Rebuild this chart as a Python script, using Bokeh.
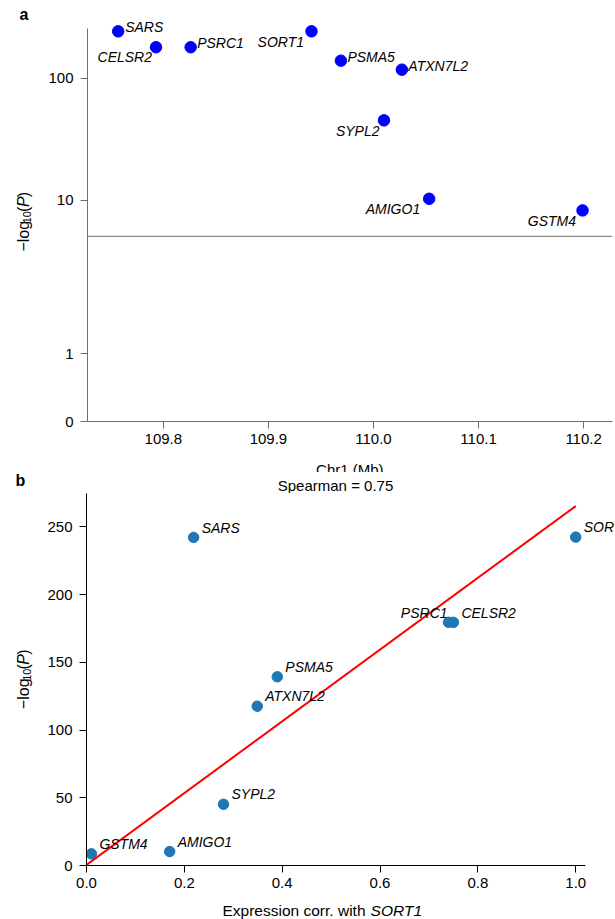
import math
from bokeh.plotting import figure
from bokeh.models import (Range1d, FixedTicker, CustomJSTickFormatter, PrintfTickFormatter,
                          Span, Label, ColumnDataSource)
from bokeh.layouts import column, row
from bokeh.embed import file_html
from bokeh.resources import INLINE

# ---------------- data ----------------
genes = ["SARS", "CELSR2", "PSRC1", "SORT1", "PSMA5", "ATXN7L2", "SYPL2", "AMIGO1", "GSTM4"]
chr1_mb = [109.757, 109.793, 109.826, 109.941, 109.969, 110.027, 110.010, 110.053, 110.199]
neglog10p = [242.2, 179.5, 179.5, 242.4, 139.3, 117.6, 45.2, 10.3, 8.6]
expr_corr = [0.219, 0.750, 0.740, 1.000, 0.390, 0.349, 0.280, 0.170, 0.010]
threshold = 5.82
fit_x = [0.0, 1.0]
fit_y = [0.5, 265.3]
spearman = 0.75
a_yticks = [0, 1, 10, 100]
a_xticks = [109.8, 109.9, 110.0, 110.1, 110.2]
b_yticks = [0, 50, 100, 150, 200, 250]
b_xticks = [0.0, 0.2, 0.4, 0.6, 0.8, 1.0]

# label placement styles (align, dx, dy in px; dy = baseline offset, up positive)
a_label_style = {
    "SARS": ("left", 7, 0), "CELSR2": ("right", -4, -15), "PSRC1": ("left", 6.5, -1),
    "SORT1": ("right", -7.5, -15.5), "PSMA5": ("left", 6.5, -1), "ATXN7L2": ("left", 6.5, -1),
    "SYPL2": ("right", -4.5, -15.5), "AMIGO1": ("right", -9, -15.5), "GSTM4": ("right", -6.5, -15.5),
}
b_label_style = {g: ("left", 8, 5) for g in genes}
b_label_style["PSRC1"] = ("right", -1, 5)

FONT = "Liberation Sans"
W = 615
SW = 40      # width of the left text strips
BF = 0.345   # baseline correction (fraction of font size)
ROT_FIX = 15  # along-text correction for rotated labels (px)

# custom compressed-log scale used by panel a's y axis
K1 = 153.3 / 122.0
K0 = 67.7 / 122.0


def ascale(v):
    if v >= 10:
        return math.log10(v)
    if v >= 1:
        return 1 - K1 * (1 - math.log10(v))
    return (1 - K1) + (v - 1) * K0


CW = {'−': 0.584, 'l': 0.222, 'o': 0.556, 'g': 0.556, '1': 0.556, '0': 0.556,
      '(': 0.333, ')': 0.333, 'P': 0.667}


def tw(s, size):
    return sum(CW.get(c, 0.556) for c in s) * size


def strip(w, h, x0, y0):
    """text-only canvas; data x = page x, data y = -page y"""
    s = figure(width=w, height=h, output_backend="svg", toolbar_location=None,
               x_range=Range1d(x0, x0 + w), y_range=Range1d(-(y0 + h), -y0),
               x_axis_location=None, y_axis_location=None, min_border=0)
    s.outline_line_color = None
    s.grid.visible = False
    return s


def txt(s, x, y, t, size=15, style="normal", align="left", angle=0.0):
    # (x, y) = page position of the text baseline start
    if angle == 0.0:
        y = y - BF * size
    else:
        x = x - BF * size
        y = y + ROT_FIX
    s.add_layout(Label(x=x, y=-y, text=t, text_font=FONT, text_font_size=f"{size:.2f}px",
                       text_font_style=style, text_align=align, text_baseline="alphabetic",
                       angle=angle, text_color="black"))


def ylabel(s, xb, yc, size=16):
    segs = [("−log", size, "normal", 0), ("10", size * 0.68, "normal", 3),
            ("(", size, "normal", 0), ("P", size, "italic", 0), (")", size, "normal", 0)]
    total = sum(tw(t, sz) for t, sz, _, _ in segs)
    y = yc + total / 2
    for t, sz, st, dx in segs:
        txt(s, xb + dx + BF * (sz - size), y, t, size=sz, style=st, angle=math.pi / 2)
        y -= tw(t, sz)


def style_axes(p, color):
    for ax in (p.xaxis[0], p.yaxis[0]):
        ax.axis_line_color = color
        ax.major_tick_line_color = color
        ax.major_tick_out = 7
        ax.major_tick_in = 0
        ax.minor_tick_out = 0
        ax.minor_tick_in = 0
        ax.major_label_text_font = FONT
        ax.major_label_text_font_size = "15px"
        ax.major_label_text_color = "black"
    p.xaxis[0].major_label_standoff = 5
    p.yaxis[0].major_label_standoff = 7
    p.xgrid.visible = False
    p.ygrid.visible = False
    p.outline_line_color = None


def gene_labels(p, xs, ys, styles, size=14):
    for g, xv, yv in zip(genes, xs, ys):
        al, dx, dy = styles[g]
        p.add_layout(Label(x=xv, y=yv, text=g, x_offset=dx, y_offset=dy + BF * size,
                           text_align=al, text_baseline="alphabetic", text_font=FONT,
                           text_font_size=f"{size}px", text_font_style="italic",
                           text_color="black"))


# ---------------- panel a (page y 0..455 + strip to 472) ----------------
HA = 455
A_TOP_VAL = 2.4074                    # y-axis spine top (scale units)
A_FRAME_TOP = A_TOP_VAL + 28 / 122.0  # frame reaches page top so labels are not cut
pa = figure(width=W - SW, height=HA, output_backend="svg", toolbar_location=None,
            x_range=Range1d(109.7278, 110.2275), y_range=Range1d(ascale(0), A_FRAME_TOP),
            min_border_left=87 - SW, min_border_right=3, min_border_top=0,
            min_border_bottom=HA - 421)
style_axes(pa, "#6e6e6e")
pa.xaxis.ticker = FixedTicker(ticks=a_xticks)
pa.xaxis.formatter = PrintfTickFormatter(format="%.1f")
pa.yaxis.ticker = FixedTicker(ticks=[ascale(v) for v in a_yticks])
pa.yaxis.formatter = CustomJSTickFormatter(args=dict(labels=[str(v) for v in a_yticks]),
                                           code="return labels[index];")
pa.yaxis.bounds = (ascale(0), A_TOP_VAL)

pa.add_layout(Span(location=ascale(threshold), dimension="width", line_color="#8c8c8c", line_width=1.2))
src_a = ColumnDataSource(dict(x=chr1_mb, y=[ascale(v) for v in neglog10p]))
pa.scatter("x", "y", source=src_a, size=11.5, color="#0000ff")
gene_labels(pa, chr1_mb, [ascale(v) for v in neglog10p], a_label_style)

sa_left = strip(SW, HA, 0, 0)
txt(sa_left, 19, 20.7, "a", size=16, style="bold")
ylabel(sa_left, 29, 224.3)

sa_bottom = strip(W, 472 - HA, 0, HA)
txt(sa_bottom, 349.3, 474, "Chr1 (Mb)", align="center")

# ---------------- panel b (page y 472..919) ----------------
sb_top = strip(W, 21, 0, 472)
txt(sb_top, 15, 485.5, "b", size=16, style="bold")
txt(sb_top, 335, 490.5, f"Spearman = {spearman}", align="center")

HB = 895 - 493
PXB = 489.5  # px per unit of x
pb = figure(width=W - SW, height=HB, output_backend="svg", toolbar_location=None,
            x_range=Range1d(0, 1.02 + 30 / PXB), y_range=Range1d(0, 274.6),
            min_border_left=86 - SW, min_border_right=0, min_border_top=0, min_border_bottom=895 - 865)
style_axes(pb, "black")
pb.xaxis.ticker = FixedTicker(ticks=b_xticks)
pb.xaxis.formatter = PrintfTickFormatter(format="%.1f")
pb.xaxis.bounds = (0, 1.02)
pb.yaxis.ticker = FixedTicker(ticks=b_yticks)

src_b = ColumnDataSource(dict(x=expr_corr, y=neglog10p))
pb.scatter("x", "y", source=src_b, size=10.5, color="#1f77b4")
pb.line(fit_x, fit_y, line_color="red", line_width=2)
gene_labels(pb, expr_corr, neglog10p, b_label_style)

sb_left = strip(SW, HB, 0, 493)
ylabel(sb_left, 29, 679)

sb_bottom = strip(W, 919 - 895, 0, 895)
txt(sb_bottom, 222, 915, "Expression corr. with ", size=15.5)
txt(sb_bottom, 222 + 148.1, 915, "SORT1", size=15.5, style="italic")

layout = column(row(sa_left, pa, spacing=0), sa_bottom, sb_top,
                row(sb_left, pb, spacing=0), sb_bottom, spacing=0)
open("out.html", "w").write(file_html(layout, INLINE))
